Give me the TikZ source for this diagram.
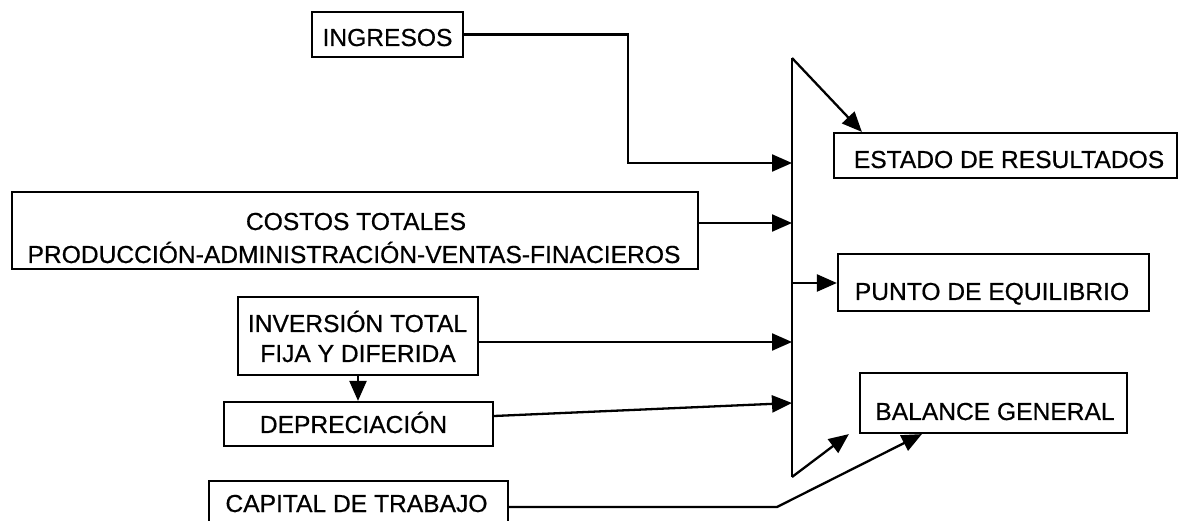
\documentclass[tikz,border=0pt]{standalone}
\usepackage{fontspec}
\setmainfont{Liberation Sans}
\newfontfamily\lblfont[FakeBold=0.6]{Liberation Sans}
\usetikzlibrary{arrows.meta}
\tikzset{
  box/.style={draw=black, line width=2.2pt, rectangle, inner sep=0pt},
  lbl/.style={anchor=base, inner sep=0pt, font=\lblfont\fontsize{24.6}{30}\selectfont},
  conn/.style={draw=black, line width=2.3pt},
  arr/.style={conn, -{Triangle[length=20pt,width=17pt]}},
}
\begin{document}
\begin{tikzpicture}[x=1pt,y=-1pt]
\useasboundingbox (0,0) rectangle (1179,521);
\clip (0,0) rectangle (1179,521);
% boxes
\node[box, minimum width=151pt, minimum height=45pt] (ingresos) at (387.5,34.5) {};
\node[box, minimum width=343pt, minimum height=45pt] (estado) at (1005.5,155.5) {};
\node[box, minimum width=686pt, minimum height=77pt] (costos) at (355,230.5) {};
\node[box, minimum width=311pt, minimum height=57pt] (punto) at (993.5,282.5) {};
\node[box, minimum width=240pt, minimum height=78pt] (inv) at (358,336) {};
\node[box, minimum width=269pt, minimum height=44pt] (dep) at (358.5,424) {};
\node[box, minimum width=267pt, minimum height=60pt] (balance) at (993.5,403) {};
\node[box, minimum width=299pt, minimum height=55pt] (capital) at (358.5,508.5) {};
% texts
\node[lbl] (t-ingresos) at (387.5,46) {INGRESOS};
\node[lbl] (t-estado) at (1009,168) {ESTADO DE RESULTADOS};
\node[lbl] (t-costos1) at (356,230) {COSTOS TOTALES};
\node[lbl] (t-costos2) at (354,263) {PRODUCCIÓN-ADMINISTRACIÓN-VENTAS-FINACIEROS};
\node[lbl] (t-punto) at (992,300) {PUNTO DE EQUILIBRIO};
\node[lbl] (t-inv1) at (357.5,332) {INVERSIÓN TOTAL};
\node[lbl] (t-inv2) at (358,362) {FIJA Y DIFERIDA};
\node[lbl] (t-dep) at (353.5,433) {DEPRECIACIÓN};
\node[lbl] (t-balance) at (995,420) {BALANCE GENERAL};
\node[lbl] (t-capital) at (356.5,512) {CAPITAL DE TRABAJO};
% trunk
\coordinate (ttop) at (792,58);
\coordinate (tbot) at (792,477);
\coordinate (in1) at (792,163);
\coordinate (in2) at (792,223);
\coordinate (out2) at (792,283);
\coordinate (in3) at (792,342);
\coordinate (in4) at (792,403);
\coordinate (capbend) at (777,507);
\draw[conn, line join=miter] (ttop) -- (tbot);
% outputs
\draw[arr] (ttop) -- ([xshift=29pt]estado.north west);
\draw[arr] (out2) -- (punto.west |- out2);
\draw[arr] (tbot) -- ([xshift=-10pt]balance.south west);
% inputs
\draw[arr] (ingresos.east) -- ++(164,0) |- (in1);
\draw[arr] (costos.east |- in2) -- (in2);
\draw[arr] (inv.east |- in3) -- (in3);
\draw[arr] (inv.south) -- (inv.south |- dep.north);
\draw[arr] ([yshift=8pt]dep.east) -- (in4);
\draw[arr] (capital.east |- capbend) -- (capbend) -- ([xshift=63pt]balance.south west);
\end{tikzpicture}
\end{document}
